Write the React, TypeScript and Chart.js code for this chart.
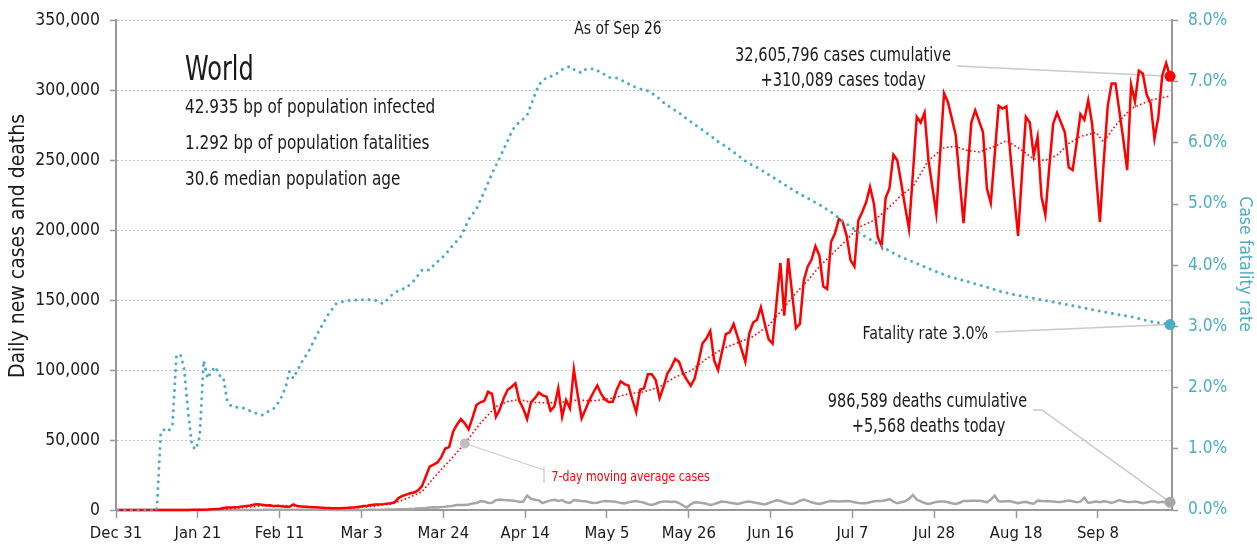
import React, { useEffect, useRef } from 'react';
import { Chart, registerables } from 'chart.js';

Chart.register(...registerables);

const FONT = "'DejaVu Sans Condensed', 'Liberation Sans Narrow', 'DejaVu Sans', sans-serif";

// x-axis tick labels, one every 21 days starting Dec 31
const xTickLabels = ['Dec 31', 'Jan 21', 'Feb 11', 'Mar 3', 'Mar 24', 'Apr 14', 'May 5', 'May 26', 'Jun 16', 'Jul 7', 'Jul 28', 'Aug 18', 'Sep 8'];

// Daily new cases (thousands), one value per day from Dec 31 (day 0) to Sep 26 (day 270)
const casesK = [
  0, 0, 0, 0, 0, 0, 0, 0, 0, 0, 0, 0, 0, 0, 0, 0, 0, 0, 0,
  0.1, 0.15, 0.15, 0.25, 0.3, 0.5, 0.7, 0.8, 1.4, 1.7, 1.8, 2.0,
  2.1, 2.6, 2.9, 3.2, 3.9, 4.1, 3.7, 3.2, 3.4, 2.7,
  3.0, 2.6, 2.4, 2.3, 4.0, 2.8, 2.5, 2.4, 2.2, 2.0,
  1.9, 1.7, 1.5, 1.4, 1.3, 1.2, 1.3, 1.5, 1.6, 1.8,
  2.0, 2.4, 2.8, 3.0, 3.5, 3.9, 4.0, 4.2, 4.5, 4.8,
  5.5, 8.5, 10.0, 11.0, 12.0, 12.5, 14.0, 17.0, 24.0, 31.0,
  32.5, 34.0, 38.0, 44.0, 45.0, 56.0, 61.0, 65.0, 62.0, 57.6,
  66.0, 75.0, 77.0, 78.0, 84.5, 83.0, 66.6, 72.0, 80.0, 86.0,
  88.0, 90.5, 78.0, 72.6, 65.0, 77.0, 80.0, 84.0, 82.0, 81.0,
  71.0, 74.0, 87.0, 66.6, 78.6, 72.6, 100.5, 82.0, 65.5, 72.0,
  78.6, 84.0, 89.0, 83.0, 79.0, 77.0, 77.5, 86.0, 92.0, 90.0,
  89.0, 79.0, 70.0, 86.0, 87.0, 97.0, 97.0, 93.0, 80.0, 88.0,
  97.6, 102.0, 108.0, 106.0, 98.0, 93.0, 88.8, 94.0, 106.0, 119.0,
  122.6, 128.0, 107.0, 100.0, 113.0, 125.7, 127.0, 133.0, 124.0, 115.0,
  106.0, 126.0, 134.0, 136.0, 145.0, 133.0, 122.0, 119.0, 148.0, 176.6,
  139.0, 180.0, 155.0, 130.0, 133.0, 164.0, 174.0, 179.0, 188.6, 182.0,
  160.0, 158.0, 191.6, 197.6, 208.0, 206.0, 196.0, 178.6, 174.0, 207.0,
  213.0, 220.0, 231.0, 219.0, 195.0, 188.6, 223.0, 230.0, 254.0, 250.0,
  234.0, 217.0, 201.0, 240.0, 281.0, 277.0, 284.0, 250.0, 231.0, 212.0,
  255.0, 298.0, 291.6, 280.0, 268.0, 236.0, 205.0, 241.0, 277.0, 285.7,
  278.0, 270.0, 229.8, 219.5, 254.0, 289.0, 287.0, 288.6, 255.0, 225.0,
  196.0, 240.0, 281.0, 277.0, 253.6, 266.7, 224.0, 211.0, 245.0, 276.0,
  284.0, 277.0, 270.0, 245.0, 243.0, 262.0, 283.0, 279.0, 293.0, 276.0,
  240.0, 206.0, 250.0, 288.6, 305.0, 305.0, 285.0, 265.0, 243.0, 304.0,
  292.0, 314.0, 312.0, 297.0, 291.0, 265.5, 281.0, 310.7, 319.5, 310.089,
];

// Daily new deaths (thousands), same days as casesK
const deathsK = [
  0, 0, 0, 0, 0, 0, 0, 0, 0, 0, 0, 0, 0, 0, 0, 0, 0, 0, 0, 0, 0, 0,
  0.01, 0.01, 0.02, 0.02, 0.02, 0.03, 0.03, 0.04, 0.04,
  0.05, 0.06, 0.06, 0.07, 0.07, 0.07, 0.08, 0.09, 0.09, 0.1,
  0.1, 0.1, 0.1, 0.12, 0.14, 0.14, 0.14, 0.1, 0.1, 0.1,
  0.15, 0.1, 0.1, 0.1, 0.05, 0.05, 0.05, 0.06, 0.05, 0.06,
  0.06, 0.07, 0.08, 0.1, 0.1, 0.1, 0.2, 0.25, 0.3, 0.35,
  0.4, 0.45, 0.45, 0.55, 0.8, 0.9, 1.1, 1.3, 1.5, 1.8,
  1.9, 1.8, 2.2, 2.3, 2.6, 3.0, 3.5, 3.6, 3.5, 4.0,
  4.7, 5.0, 6.2, 6.0, 5.0, 5.2, 7.0, 7.5, 7.2, 7.0,
  6.8, 6.5, 5.7, 6.0, 10.3, 8.0, 7.3, 6.9, 5.0, 6.0,
  6.9, 7.3, 6.4, 7.1, 5.5, 5.0, 7.1, 6.8, 6.4, 6.2,
  5.6, 5.0, 5.2, 6.0, 6.4, 6.2, 6.0, 5.8, 5.0, 4.6,
  5.5, 6.0, 6.4, 5.8, 5.2, 4.2, 3.6, 4.5, 5.6, 6.0,
  6.0, 5.8, 6.0, 5.0, 3.2, 1.8, 4.0, 5.5, 5.3, 5.0,
  4.5, 3.6, 4.2, 5.2, 6.0, 5.8, 5.2, 4.8, 4.3, 5.0,
  5.8, 6.0, 5.5, 5.0, 4.5, 4.0, 5.0, 6.0, 6.9, 6.5,
  5.5, 4.8, 4.3, 5.2, 6.5, 7.4, 6.5, 5.5, 4.8, 4.3,
  5.0, 5.8, 6.4, 6.2, 6.0, 6.2, 6.4, 6.2, 5.6, 5.0,
  4.8, 4.8, 5.5, 6.2, 6.4, 6.5, 7.0, 7.8, 6.0, 4.8,
  5.5, 6.2, 8.0, 10.7, 7.5, 6.2, 5.0, 4.3, 5.0, 5.8,
  6.0, 6.0, 5.5, 4.8, 4.3, 5.2, 6.4, 6.5, 6.6, 6.7,
  6.7, 6.2, 5.5, 7.5, 10.2, 6.2, 6.0, 6.2, 6.2, 5.5,
  4.8, 5.5, 5.8, 5.0, 4.5, 6.7, 6.5, 6.3, 6.2, 6.0,
  5.8, 5.7, 6.2, 6.7, 6.2, 5.5, 6.0, 8.8, 5.0, 5.5,
  6.0, 5.5, 6.2, 5.8, 5.0, 6.0, 7.1, 6.2, 5.7, 5.8,
  6.0, 5.5, 4.8, 5.3, 6.0, 6.0, 5.3, 5.8, 5.5, 5.568,
];

// 7-day moving average of cases (thousands), read at these days
const avgDays = [0, 18, 22, 26, 30, 34, 38, 42, 46, 50, 54, 58, 62, 66, 70, 74, 78, 82, 86, 89, 93, 97, 100, 103, 106, 110, 114, 118, 122, 127, 131, 135, 139, 143, 147, 151, 155, 159, 163, 167, 170, 173, 177, 180, 184, 187, 190, 194, 197, 201, 204, 208, 212, 215, 218, 221, 225, 228, 231, 235, 238, 241, 244, 247, 251, 253, 256, 260, 265, 270];
const avgK = [0, 0, 0.15, 0.4, 1.2, 2.2, 3.3, 3.2, 2.9, 2.3, 1.5, 1.2, 1.8, 2.9, 4.2, 8, 13, 26, 38, 47.6, 62, 74, 77.5, 79, 77, 76.6, 77, 78.6, 78, 80, 83, 84.5, 88, 95, 99.5, 108, 115, 119.5, 124, 132, 141.7, 152, 164, 174, 185, 193, 202, 207, 214, 225, 231, 250, 259, 260, 257, 256, 260, 264, 259, 251, 250, 253.6, 262, 267, 270, 263, 275, 287, 293, 296];

// Case fatality rate (%), read at these days
const rateDays = [0, 10, 11, 12, 13, 14, 15, 16, 17, 18, 19, 20, 21, 22, 23, 24, 25, 26, 27, 28, 29, 30, 32, 34, 35, 37, 38, 40, 41, 42, 43, 44, 45, 47, 49, 51, 54, 56, 58, 60, 62, 64, 66, 68, 69, 70, 72, 74, 76, 78, 80, 81, 84, 86, 88, 89, 90, 92, 94, 96, 98, 100, 101, 102, 104, 105, 106, 108, 110, 112, 114, 116, 117, 119, 120, 122, 124, 126, 128, 130, 132, 134, 136, 138, 140, 142, 144, 146, 148, 150, 152, 154, 156, 158, 160, 162, 164, 166, 168, 170, 172, 174, 176, 178, 180, 183, 186, 188, 190, 192, 196, 200, 205, 209, 213, 217, 222, 226, 230, 235, 240, 244, 248, 252, 256, 260, 265, 270];
const ratePct = [0, 0, 1.27, 1.32, 1.29, 1.39, 2.5, 2.55, 2.3, 1.6, 1.05, 0.99, 1.2, 2.44, 2.15, 2.27, 2.34, 2.2, 2.18, 1.8, 1.7, 1.68, 1.67, 1.62, 1.59, 1.55, 1.59, 1.66, 1.74, 1.85, 2.0, 2.26, 2.15, 2.4, 2.6, 2.86, 3.2, 3.37, 3.41, 3.43, 3.43, 3.44, 3.43, 3.37, 3.43, 3.5, 3.59, 3.63, 3.75, 3.92, 3.92, 4.0, 4.17, 4.33, 4.47, 4.6, 4.75, 4.92, 5.2, 5.5, 5.76, 6.03, 6.18, 6.28, 6.39, 6.45, 6.62, 6.95, 7.07, 7.1, 7.2, 7.25, 7.2, 7.14, 7.2, 7.21, 7.15, 7.07, 7.06, 7.0, 6.93, 6.88, 6.85, 6.77, 6.66, 6.57, 6.49, 6.39, 6.3, 6.21, 6.12, 6.02, 5.94, 5.85, 5.75, 5.66, 5.6, 5.52, 5.44, 5.36, 5.28, 5.2, 5.13, 5.06, 4.99, 4.87, 4.72, 4.63, 4.54, 4.46, 4.31, 4.16, 4.03, 3.92, 3.82, 3.75, 3.66, 3.58, 3.52, 3.46, 3.4, 3.35, 3.3, 3.25, 3.2, 3.16, 3.08, 3.03];

const infoLines = ['42.935 bp of population infected', '1.292 bp of population fatalities', '30.6 median population age'];
const casesNote = ['32,605,796 cases cumulative', '+310,089 cases today'];
const deathsNote = ['986,589 deaths cumulative', '+5,568 deaths today'];
const rateNote = 'Fatality rate 3.0%';
const avgNote = '7-day moving average cases';
const avgMarkDay = 89;

const RED = '#ff0000';
const TEAL = '#4bacc6';
const GREY = '#a6a6a6';
const TEXT = '#1a1a1a';
const AXIS = '#999999';

// draws text horizontally condensed (sx < 1) to mimic a narrow face
function condensedText(ctx: CanvasRenderingContext2D, s: string, x: number, y: number, size: number, sx: number, align: CanvasTextAlign) {
  ctx.save();
  ctx.translate(x, y);
  ctx.scale(sx, 1);
  ctx.font = `${size}px ${FONT}`;
  ctx.textAlign = align;
  ctx.textBaseline = 'alphabetic';
  ctx.fillText(s, 0, 0);
  ctx.restore();
}

export default function App() {
  const ref = useRef<HTMLCanvasElement>(null);

  useEffect(() => {
    const canvas = ref.current;
    if (!canvas) return;
    const last = casesK.length - 1;
    const daily = (vals: number[], scale: number) => vals.map((v, i) => ({ x: i + 0.5, y: v * scale }));
    const sampled = (days: number[], vals: number[], scale: number) => vals.map((v, i) => ({ x: days[i] + 0.5, y: v * scale }));
    const avgMarkIdx = avgDays.indexOf(avgMarkDay);

    const annotate = {
      id: 'annotate',
      beforeDatasetsDraw(chart: any) {
        const { ctx } = chart;
        const xs = chart.scales.x, ys = chart.scales.y, yr = chart.scales.y1;
        const ex = xs.getPixelForValue(last + 0.5);
        ctx.save();
        ctx.strokeStyle = '#c9c9c9';
        ctx.lineWidth = 1.5;
        ctx.beginPath();
        ctx.moveTo(957, 66);
        ctx.lineTo(ex, ys.getPixelForValue(casesK[last] * 1000));
        ctx.stroke();
        ctx.beginPath();
        ctx.moveTo(995, 332);
        ctx.lineTo(ex, yr.getPixelForValue(ratePct[ratePct.length - 1]));
        ctx.stroke();
        ctx.beginPath();
        ctx.moveTo(1033, 410);
        ctx.lineTo(1042, 410);
        ctx.lineTo(ex, ys.getPixelForValue(deathsK[last] * 1000));
        ctx.stroke();
        ctx.lineWidth = 1;
        ctx.beginPath();
        ctx.moveTo(xs.getPixelForValue(avgDays[avgMarkIdx] + 0.5), ys.getPixelForValue(avgK[avgMarkIdx] * 1000));
        ctx.lineTo(544, 470);
        ctx.stroke();
        ctx.strokeStyle = '#bdbdbd';
        ctx.beginPath();
        ctx.moveTo(544, 467);
        ctx.lineTo(544, 483);
        ctx.stroke();
        ctx.restore();
      },
      afterDraw(chart: any) {
        const { ctx } = chart;
        ctx.save();
        ctx.fillStyle = TEXT;
        condensedText(ctx, 'World', 185, 80, 33, 0.81, 'left');
        infoLines.forEach((t, i) => condensedText(ctx, t, 185, 113 + i * 36, 19.5, 0.87, 'left'));
        condensedText(ctx, 'As of Sep 26', 618, 34, 17.8, 0.87, 'center');
        condensedText(ctx, casesNote[0], 843, 61, 18.8, 0.867, 'center');
        condensedText(ctx, casesNote[1], 843, 86, 18.8, 0.867, 'center');
        condensedText(ctx, deathsNote[0], 927.5, 406.5, 18.6, 0.867, 'center');
        condensedText(ctx, deathsNote[1], 928.5, 431.5, 18.6, 0.867, 'center');
        condensedText(ctx, rateNote, 988, 339, 18.2, 0.868, 'right');
        ctx.fillStyle = RED;
        condensedText(ctx, avgNote, 551.5, 481, 14, 0.87, 'left');
        // axis titles
        ctx.textAlign = 'center';
        ctx.textBaseline = 'middle';
        ctx.fillStyle = TEXT;
        ctx.font = `21px ${FONT}`;
        ctx.save();
        ctx.translate(18.5, 246);
        ctx.rotate(-Math.PI / 2);
        ctx.fillText('Daily new cases and deaths', 0, 0);
        ctx.restore();
        ctx.fillStyle = TEAL;
        ctx.font = `17.5px ${FONT}`;
        ctx.save();
        ctx.translate(1244.5, 264);
        ctx.rotate(Math.PI / 2);
        ctx.fillText('Case fatality rate', 0, 0);
        ctx.restore();
        ctx.restore();
      },
    };

    const chart = new Chart(canvas, {
      type: 'line',
      data: {
        datasets: [
          {
            label: 'Case fatality rate',
            data: sampled(rateDays, ratePct, 1),
            yAxisID: 'y1',
            borderColor: TEAL,
            backgroundColor: TEAL,
            borderWidth: 3,
            borderDash: [0.01, 6.7],
            borderCapStyle: 'round',
            pointRadius: (c: any) => (c.dataIndex === rateDays.length - 1 ? 5.5 : 0),
            pointBorderWidth: 0,
            pointBackgroundColor: TEAL,
            order: 1,
            clip: false,
          },
          {
            label: 'Daily cases',
            data: daily(casesK, 1000),
            yAxisID: 'y',
            borderColor: RED,
            backgroundColor: RED,
            borderWidth: 2.5,
            pointRadius: (c: any) => (c.dataIndex === last ? 5.5 : 0),
            pointBorderWidth: 0,
            pointBackgroundColor: RED,
            order: 2,
            clip: false,
          },
          {
            label: '7-day average',
            data: sampled(avgDays, avgK, 1000),
            yAxisID: 'y',
            borderColor: RED,
            borderWidth: 1.6,
            borderDash: [1.6, 2.4],
            pointRadius: (c: any) => (c.dataIndex === avgMarkIdx ? 5 : 0),
            pointBorderWidth: 0,
            pointBackgroundColor: '#bfbfbf',
            order: 3,
          },
          {
            label: 'Daily deaths',
            data: daily(deathsK, 1000),
            yAxisID: 'y',
            borderColor: GREY,
            backgroundColor: GREY,
            borderWidth: 2.5,
            pointRadius: (c: any) => (c.dataIndex === last ? 5.5 : 0),
            pointBorderWidth: 0,
            pointBackgroundColor: GREY,
            order: 4,
            clip: false,
          },
        ],
      },
      options: {
        animation: false,
        responsive: false,
        devicePixelRatio: 1,
        layout: { padding: { top: 20, left: 0, right: 0, bottom: 0 } },
        plugins: { legend: { display: false }, tooltip: { enabled: false }, title: { display: false } },
        scales: {
          x: {
            type: 'linear',
            min: 0,
            max: 271,
            ticks: {
              stepSize: 21,
              includeBounds: false,
              autoSkip: false,
              maxRotation: 0,
              padding: 6,
              color: TEXT,
              font: { family: FONT, size: 16.5 },
              callback: (v: any) => xTickLabels[Math.round(Number(v) / 21)] ?? '',
            },
            grid: { drawOnChartArea: false, drawTicks: true, tickLength: 8, tickColor: AXIS, tickWidth: 1.5 },
            border: { color: AXIS, width: 2 },
            afterFit: (s: any) => { s.height = 38; },
          },
          y: {
            position: 'left',
            min: 0,
            max: 350000,
            ticks: {
              stepSize: 50000,
              padding: 10,
              color: TEXT,
              font: { family: FONT, size: 17.4 },
              callback: (v: any) => Number(v).toLocaleString('en-US'),
            },
            grid: { color: '#c4c4c4', lineWidth: 1, tickLength: 6, tickColor: AXIS, tickWidth: 1.5, tickBorderDash: [] },
            border: { color: AXIS, width: 2, dash: [2, 2] },
            afterFit: (s: any) => { s.width = 116; },
          },
          y1: {
            position: 'right',
            min: 0,
            max: 8,
            ticks: {
              stepSize: 1,
              padding: 10,
              color: TEAL,
              font: { family: FONT, size: 17.2 },
              callback: (v: any) => `${Number(v).toFixed(1)}%`,
            },
            grid: { drawOnChartArea: false, tickLength: 6, tickColor: AXIS, tickWidth: 1.5 },
            border: { color: AXIS, width: 2 },
            afterFit: (s: any) => { s.width = 85; },
          },
        },
      },
      plugins: [annotate],
    } as any);

    return () => chart.destroy();
  }, []);

  return (
    <canvas
      ref={ref}
      width={1257}
      height={548}
      style={{ position: 'absolute', left: 0, top: 0, width: 1257, height: 548 }}
    />
  );
}
